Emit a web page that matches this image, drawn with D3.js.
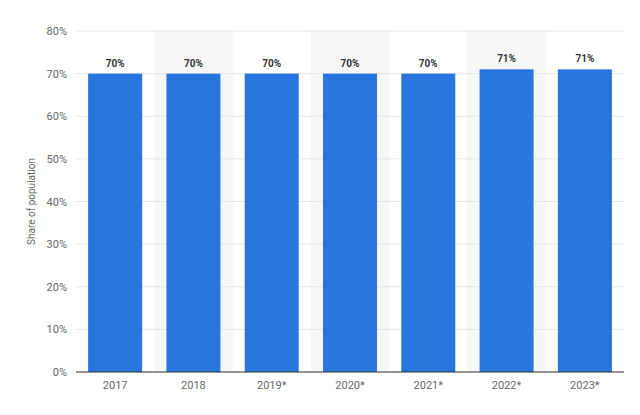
<!DOCTYPE html>
<html><head><meta charset="utf-8">
<script src="https://cdn.jsdelivr.net/npm/d3@7"></script>
<style>body{margin:0;background:#fff;font-family:Roboto,"Open Sans",sans-serif;}</style>
</head><body>
<script>
var years = ["2017","2018","2019*","2020*","2021*","2022*","2023*"];
var shares = [70, 70, 70, 70, 70, 71, 71];
var yTicks = [0, 10, 20, 30, 40, 50, 60, 70, 80];

var w = 640, h = 415,
    mLeft = 76, mRight = 624, mTop = 31, mBottom = 372;

var svg = d3.select("body").append("svg").attr("width", w).attr("height", h);

var x = d3.scaleBand().domain(years).range([mLeft, mRight]).paddingInner(0.31).paddingOuter(0.155);
var y = d3.scaleLinear().domain([0, 80]).range([mBottom, mTop]);
var step = x.step();

// alternating shaded columns
svg.selectAll(".shade").data(years.filter(function(d,i){ return i % 2 === 1; }))
  .enter().append("rect")
  .attr("x", function(d){ return x(d) + x.bandwidth()/2 - step/2; })
  .attr("y", mTop).attr("width", step).attr("height", mBottom - mTop)
  .attr("fill", "#f7f7f7");

// grid
svg.selectAll(".grid").data(yTicks).enter().append("line")
  .attr("x1", mLeft).attr("x2", mRight)
  .attr("y1", function(d){ return y(d); }).attr("y2", function(d){ return y(d); })
  .attr("stroke", "#e6e6e6").attr("stroke-width", 1);

svg.selectAll(".ylab").data(yTicks).enter().append("text")
  .attr("x", 67).attr("y", function(d){ return y(d) + 4; })
  .attr("text-anchor", "end").attr("font-size", 11).attr("fill", "#666")
  .text(function(d){ return d + "%"; });

svg.selectAll(".bar").data(shares).enter().append("rect")
  .attr("x", function(d,i){ return x(years[i]); })
  .attr("y", function(d){ return y(d); })
  .attr("width", x.bandwidth())
  .attr("height", function(d){ return mBottom - y(d); })
  .attr("fill", "#2876dd");

svg.selectAll(".val").data(shares).enter().append("text")
  .attr("x", function(d,i){ return x(years[i]) + x.bandwidth()/2; })
  .attr("y", function(d){ return y(d) - 7; })
  .attr("text-anchor", "middle").attr("font-size", 10).attr("font-weight", "bold").attr("fill", "#333")
  .text(function(d){ return d + "%"; });

svg.append("line").attr("x1", mLeft).attr("x2", mRight).attr("y1", mBottom).attr("y2", mBottom)
  .attr("stroke", "#333").attr("stroke-width", 1);

svg.selectAll(".xlab").data(years).enter().append("text")
  .attr("x", function(d){ return x(d) + x.bandwidth()/2; })
  .attr("y", mBottom + 17)
  .attr("text-anchor", "middle").attr("font-size", 11).attr("fill", "#666")
  .text(function(d){ return d; });

svg.append("text").attr("transform", "translate(35," + ((mTop + mBottom)/2) + ") rotate(-90)")
  .attr("text-anchor", "middle").attr("font-size", 10).attr("fill", "#666")
  .text("Share of population");
</script>
</body></html>
